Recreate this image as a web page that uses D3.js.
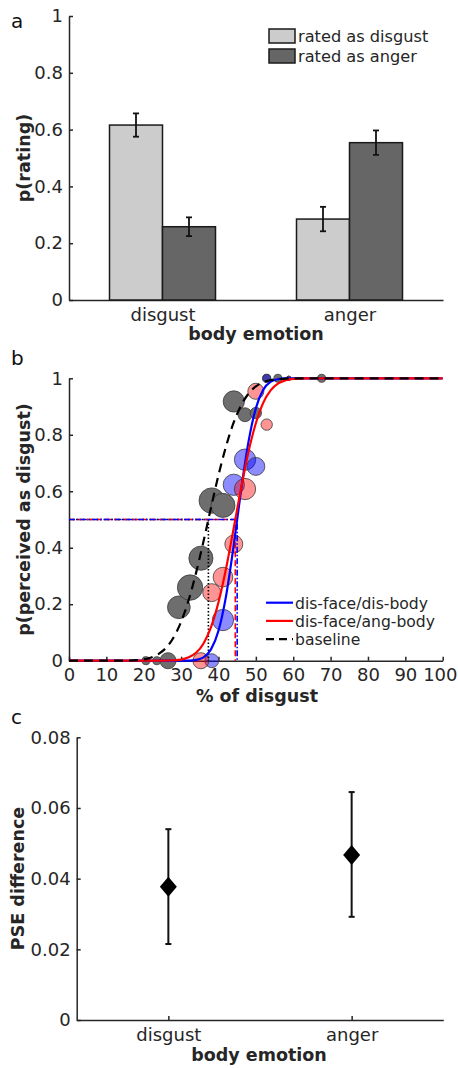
<!DOCTYPE html>
<html>
<head>
<meta charset="utf-8">
<script src="https://cdn.jsdelivr.net/npm/d3@7"></script>
<style>
  body { margin: 0; background: #fff; }
  svg { display: block; font-family: "DejaVu Sans", Helvetica, Arial, sans-serif; }
</style>
</head>
<body>
<div id="chart"></div>
<script>
// ---- panel a: ratings per body emotion
const bodyEmotions = ['disgust', 'anger'];
const ratingSeries = ['rated as disgust', 'rated as anger'];
const ratedDisgust = [0.616, 0.285];
const ratedDisgustSE = [0.041, 0.043];
const ratedAnger = [0.258, 0.554];
const ratedAngerSE = [0.033, 0.043];
const ratingTicks = [0, 0.2, 0.4, 0.6, 0.8, 1];

// ---- panel b: psychometric data (x = % of disgust)
const baseX = [20.6, 23.5, 26.5, 29.4, 32.4, 35.3, 38.2, 41.2, 44.1, 47.1, 50.0, 52.9, 55.9, 67.6];
const baseP = [0, 0, 0, 0.189, 0.259, 0.363, 0.567, 0.550, 0.918, 0.871, 0.877, 1, 1, 1];
const baseN = [1, 1, 4, 8, 10, 9, 10, 9, 7, 3, 2, 1, 1, 1];

const disDisX = [38.2, 41.2, 44.1, 47.1, 50.0, 52.9, 58.8];
const disDisP = [0, 0.144, 0.623, 0.712, 0.688, 1, 1];
const disDisN = [3, 7, 7, 7, 5, 1, 0.3];

const disAngX = [35.3, 38.2, 41.2, 44.1, 47.1, 50.0, 52.9, 58.8];
const disAngP = [0, 0.241, 0.296, 0.413, 0.608, 0.954, 0.836, 1];
const disAngN = [4, 5, 6, 5, 7, 4, 2, 0.3];

// fitted curves
const fitX = [0, 15, 18, 21, 24, 27, 30, 32, 34, 36, 38, 40, 42, 44, 46, 48, 50, 52, 54, 56, 58, 60, 63, 100];
const fitDisDis = [0, 0, 0, 0, 0, 0, 0.0001, 0.0006, 0.003, 0.012, 0.040, 0.106, 0.227, 0.401, 0.599, 0.773, 0.894, 0.960, 0.988, 0.997, 0.9995, 1, 1, 1];
const fitDisAng = [0, 0, 0, 0, 0.0001, 0.0007, 0.004, 0.012, 0.028, 0.061, 0.119, 0.207, 0.325, 0.464, 0.607, 0.738, 0.841, 0.914, 0.958, 0.982, 0.993, 0.998, 0.9996, 1];
const fitBase = [0, 0.0004, 0.002, 0.0075, 0.024, 0.062, 0.138, 0.214, 0.311, 0.423, 0.542, 0.657, 0.758, 0.841, 0.903, 0.945, 0.971, 0.986, 0.994, 0.997, 0.999, 1, 1, 1];

const pseBase = 37.3;
const pseDisDis = 45.0;
const pseDisAng = 44.5;
const percentTicks = [0, 10, 20, 30, 40, 50, 60, 70, 80, 90, 100];
const probTicks = [0, 0.2, 0.4, 0.6, 0.8, 1];
const legendB = ['dis-face/dis-body', 'dis-face/ang-body', 'baseline'];

// ---- panel c: PSE difference
const pseDiff = [0.0377, 0.0467];
const pseLow = [0.0215, 0.0292];
const pseHigh = [0.054, 0.0645];
const pseTicks = [0, 0.02, 0.04, 0.06, 0.08];

const W = 458, H = 1068;
const axisColor = '#262626';

const svg = d3.select('#chart').append('svg')
  .attr('width', W)
  .attr('height', H);

svg.append('rect').attr('width', W).attr('height', H).attr('fill', '#fff');

function styleAxis(g) {
  g.attr('font-family', null).attr('font-size', 18);
  g.select('.domain').attr('stroke', axisColor).attr('stroke-width', 1.5);
  g.selectAll('.tick line').attr('stroke', axisColor).attr('stroke-width', 1.5);
  g.selectAll('.tick text').attr('fill', axisColor);
}

function fmtTick(d) {
  return d === 0 || d === 1 ? String(d) : String(+d.toFixed(2));
}

function panelLetter(t, y) {
  svg.append('text').attr('x', 11).attr('y', y)
    .attr('font-size', 20).attr('fill', '#111').text(t);
}

function yLabel(t, x, y) {
  svg.append('text')
    .attr('transform', `translate(${x},${y}) rotate(-90)`)
    .attr('text-anchor', 'middle')
    .attr('font-size', 17.5).attr('font-weight', 700).attr('fill', axisColor)
    .text(t);
}

function xLabel(t, x, y) {
  svg.append('text').attr('x', x).attr('y', y)
    .attr('text-anchor', 'middle')
    .attr('font-size', 17.5).attr('font-weight', 700).attr('fill', axisColor)
    .text(t);
}

// ================= panel a =================
const xA = d3.scalePoint().domain(bodyEmotions).range([69, 443]).padding(0.5);
const subA = d3.scaleBand().domain(ratingSeries).range([-53, 53]);
const yA = d3.scaleLinear().domain([0, 1]).range([300, 16]);
const barFill = d3.scaleOrdinal().domain(ratingSeries).range(['#cccccc', '#666666']);

svg.append('g').attr('transform', 'translate(0,300)')
  .call(d3.axisBottom(xA).tickSize(-4).tickSizeOuter(0).tickPadding(8))
  .call(styleAxis);
svg.append('g').attr('transform', 'translate(69,0)')
  .call(d3.axisLeft(yA).tickValues(ratingTicks).tickSize(-4).tickSizeOuter(0).tickPadding(6).tickFormat(fmtTick))
  .call(styleAxis);

const barData = bodyEmotions.flatMap((c, i) => [
  { cat: c, series: ratingSeries[0], v: ratedDisgust[i], se: ratedDisgustSE[i] },
  { cat: c, series: ratingSeries[1], v: ratedAnger[i], se: ratedAngerSE[i] }
]);

svg.append('g').selectAll('rect').data(barData).join('rect')
  .attr('x', d => xA(d.cat) + subA(d.series))
  .attr('y', d => yA(d.v))
  .attr('width', subA.bandwidth())
  .attr('height', d => yA(0) - yA(d.v))
  .attr('fill', d => barFill(d.series))
  .attr('stroke', '#1a1a1a')
  .attr('stroke-width', 1.5);

const errA = svg.append('g').attr('stroke', '#111').attr('stroke-width', 1.8);
barData.forEach(d => {
  const cx = xA(d.cat) + subA(d.series) + subA.bandwidth() / 2;
  const y1 = yA(d.v + d.se), y2 = yA(d.v - d.se);
  errA.append('line').attr('x1', cx).attr('x2', cx).attr('y1', y1).attr('y2', y2);
  errA.append('line').attr('x1', cx - 3).attr('x2', cx + 3).attr('y1', y1).attr('y2', y1);
  errA.append('line').attr('x1', cx - 3).attr('x2', cx + 3).attr('y1', y2).attr('y2', y2);
});

// legend a
ratingSeries.forEach((s, i) => {
  const y = 29 + i * 20;
  svg.append('rect').attr('x', 269).attr('y', y).attr('width', 26).attr('height', 14)
    .attr('fill', barFill(s)).attr('stroke', '#1a1a1a').attr('stroke-width', 1.5);
  svg.append('text').attr('x', 298).attr('y', y + 12.5)
    .attr('font-size', 16.2).attr('fill', axisColor).text(s);
});

panelLetter('a', 28);
yLabel('p(rating)', 30, 158);
xLabel('body emotion', 256, 340);

// ================= panel b =================
const xB = d3.scaleLinear().domain([0, 100]).range([69, 442.7]);
const yB = d3.scaleLinear().domain([0, 1]).range([660.7, 378.3]);
const rB = d3.scaleSqrt().domain([0, 10]).range([0, 12.7]);

svg.append('g').attr('transform', 'translate(0,660.7)')
  .call(d3.axisBottom(xB).tickValues(percentTicks).tickSize(-4).tickSizeOuter(0).tickPadding(8))
  .call(styleAxis)
  .call(g => g.selectAll('.tick text').filter(d => d === 100)
    .attr('text-anchor', 'end').attr('x', W - 1 - xB(100)));
svg.append('g').attr('transform', 'translate(69,0)')
  .call(d3.axisLeft(yB).tickValues(probTicks).tickSize(-4).tickSizeOuter(0).tickPadding(6).tickFormat(fmtTick))
  .call(styleAxis);

function dots(xs, ps, ns, fill, opacity) {
  svg.append('g').selectAll('circle').data(xs.map((x, i) => ({ x, p: ps[i], n: ns[i] }))).join('circle')
    .attr('cx', d => xB(d.x))
    .attr('cy', d => yB(d.p))
    .attr('r', d => rB(d.n))
    .attr('fill', fill)
    .attr('fill-opacity', opacity)
    .attr('stroke', '#3a3a3a')
    .attr('stroke-width', 0.8);
}
dots(baseX, baseP, baseN, '#6e6e6e', 1);
dots(disDisX, disDisP, disDisN, '#0000ff', 0.45);
dots(disAngX, disAngP, disAngN, '#ff0000', 0.42);

// PSE reference lines
const refs = [
  { pse: pseBase, color: '#000', dash: '1.5,2' },
  { pse: pseDisAng, color: '#ff0000', dash: '6,3' },
  { pse: pseDisDis, color: '#0000ff', dash: '6,2,1.5,2' }
];
refs.forEach(r => {
  svg.append('path')
    .attr('d', `M${xB(0)},${yB(0.5)}H${xB(r.pse)}V${yB(0)}`)
    .attr('fill', 'none')
    .attr('stroke', r.color)
    .attr('stroke-width', 1.6)
    .attr('stroke-dasharray', r.dash);
});

const lineB = ys => d3.line().x((d, i) => xB(fitX[i])).y(d => yB(d)).curve(d3.curveMonotoneX)(ys);
svg.append('path').attr('d', lineB(fitDisDis)).attr('fill', 'none').attr('stroke', '#0000ff').attr('stroke-width', 2.2);
svg.append('path').attr('d', lineB(fitDisAng)).attr('fill', 'none').attr('stroke', '#ff0000').attr('stroke-width', 2.2);
svg.append('path').attr('d', lineB(fitBase)).attr('fill', 'none').attr('stroke', '#000').attr('stroke-width', 2.2)
  .attr('stroke-dasharray', '9,6');

// legend b
const legStyles = [
  { color: '#0000ff', dash: null },
  { color: '#ff0000', dash: null },
  { color: '#000', dash: '8,5' }
];
legendB.forEach((t, i) => {
  const y = 602.7 + i * 18.2;
  svg.append('line').attr('x1', 266).attr('x2', 293).attr('y1', y).attr('y2', y)
    .attr('stroke', legStyles[i].color).attr('stroke-width', 2.2)
    .attr('stroke-dasharray', legStyles[i].dash);
  svg.append('text').attr('x', 295).attr('y', y + 6)
    .attr('font-size', 15.6).attr('fill', axisColor).text(t);
});

panelLetter('b', 365);
yLabel('p(perceived as disgust)', 30, 519.5);
xLabel('% of disgust', 257, 702);

// ================= panel c =================
const xC = d3.scalePoint().domain(bodyEmotions).range([76.7, 443.3]).padding(0.5);
const yC = d3.scaleLinear().domain([0, 0.08]).range([1020, 737.3]);

svg.append('g').attr('transform', 'translate(0,1020)')
  .call(d3.axisBottom(xC).tickSize(-4).tickSizeOuter(0).tickPadding(8))
  .call(styleAxis);
svg.append('g').attr('transform', 'translate(76.7,0)')
  .call(d3.axisLeft(yC).tickValues(pseTicks).tickSize(-4).tickSizeOuter(0).tickPadding(6).tickFormat(fmtTick))
  .call(styleAxis);

const pseData = bodyEmotions.map((c, i) => ({ cat: c, v: pseDiff[i], lo: pseLow[i], hi: pseHigh[i] }));
const errC = svg.append('g').attr('stroke', '#111').attr('stroke-width', 2);
pseData.forEach(d => {
  const cx = xC(d.cat);
  errC.append('line').attr('x1', cx).attr('x2', cx).attr('y1', yC(d.hi)).attr('y2', yC(d.lo));
  errC.append('line').attr('x1', cx - 3).attr('x2', cx + 3).attr('y1', yC(d.hi)).attr('y2', yC(d.hi));
  errC.append('line').attr('x1', cx - 3).attr('x2', cx + 3).attr('y1', yC(d.lo)).attr('y2', yC(d.lo));
});
svg.append('g').selectAll('path').data(pseData).join('path')
  .attr('transform', d => `translate(${xC(d.cat)},${yC(d.v)})`)
  .attr('d', 'M0,-10L8.5,0L0,10L-8.5,0Z')
  .attr('fill', '#000');

panelLetter('c', 724);
yLabel('PSE difference', 24, 878.5);
xLabel('body emotion', 259, 1061);
</script>
</body>
</html>
